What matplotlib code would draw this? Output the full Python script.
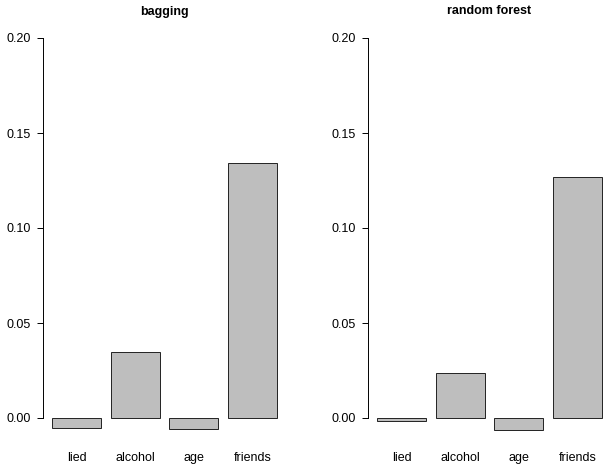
import matplotlib
matplotlib.use("Agg")
import matplotlib.pyplot as plt

plt.rcParams['font.family'] = ['Liberation Sans', 'DejaVu Sans']

# variable importance values
features = ['lied', 'alcohol', 'age', 'friends']
bagging = [-0.005, 0.0347, -0.006, 0.134]
random_forest = [-0.0018, 0.0237, -0.0065, 0.127]
yticks = [0.00, 0.05, 0.10, 0.15, 0.20]

W, H = 610, 470
fig = plt.figure(figsize=(W / 100, H / 100), dpi=100)


def draw_panel(left_px, values, title):
    ax = fig.add_axes([left_px / W, 33 / H, 243 / W, 418 / H])
    # R barplot: width 1, space 0.2
    xs = [0.2 + i * 1.2 + 0.5 for i in range(len(values))]
    ax.bar(xs, values, width=1.0, color='#bebebe', edgecolor='#222222', linewidth=0.7)
    ax.set_xlim(0.016, 4.984)
    ax.set_ylim(-0.01, 0.21)
    for side in ['top', 'right', 'bottom']:
        ax.spines[side].set_visible(False)
    ax.spines['left'].set_bounds(0, 0.2)
    ax.spines['left'].set_linewidth(0.7)
    ax.set_yticks(yticks)
    ax.set_yticklabels(['%.2f' % v for v in yticks])
    ax.tick_params(axis='y', direction='out', length=4.5, width=0.7, pad=4, labelsize=9)
    ax.set_xticks(xs)
    ax.set_xticklabels(features)
    ax.tick_params(axis='x', length=0, pad=10.5, labelsize=9)
    fig.text((left_px + 121.5) / W, 1 - 11.5 / H, title, ha='center', va='center',
             fontsize=9, fontweight='bold')
    return ax


draw_panel(43, bagging, 'bagging')
draw_panel(368, random_forest, 'random forest')

fig.savefig('out.png', dpi=100)
